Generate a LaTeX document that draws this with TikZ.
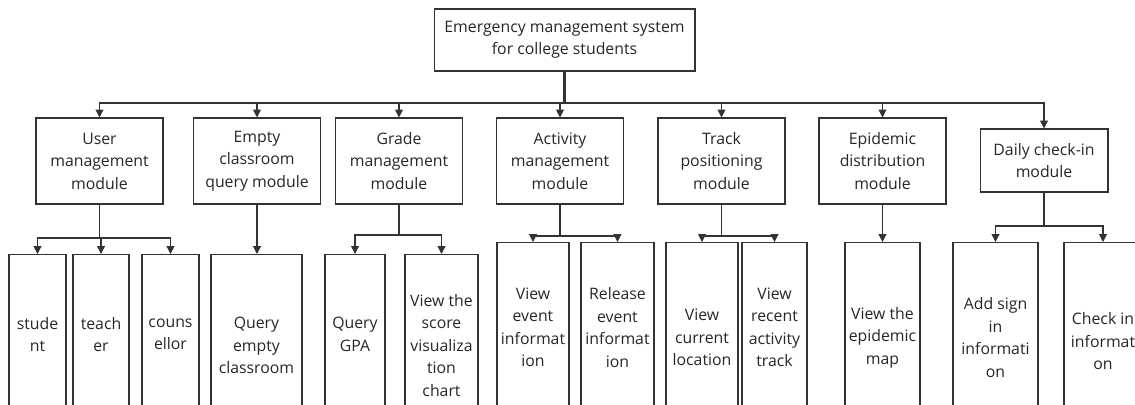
\documentclass[tikz,border=0pt]{standalone}
\usepackage{fontspec}
\setmainfont{Open Sans}
\usetikzlibrary{arrows.meta}

\begin{document}
\begin{tikzpicture}[x=0.02cm,y=-0.02cm,
  line/.style={draw=black!80,line width=0.6pt},
  arr/.style={line,-{Triangle[length=4.5pt,width=4.5pt]}},
  box/.style={draw=black!80,line width=0.6pt,align=center,inner sep=0pt,
    text=black!85,font=\fontsize{9}{12.8}\selectfont},
  mod/.style={box,minimum width=2.54cm,minimum height=1.72cm},
  leaf/.style={box,anchor=north}]
\useasboundingbox (0,0) rectangle (1135,405);
\clip (0,0) rectangle (1135,405);

\node[box,minimum width=5.22cm,minimum height=1.24cm] (sys) at (564.5,40)
  {Emergency management system\\for college students};

\node[mod] (user) at (99.5,161) {User\\management\\module};
\node[mod] (empty) at (257,161) {Empty\\classroom\\query module};
\node[mod] (grade) at (399,161) {Grade\\management\\module};
\node[mod] (act) at (560,161) {Activity\\management\\module};
\node[mod] (track) at (721.5,161) {Track\\positioning\\module};
\node[mod] (epid) at (882.5,161) {Epidemic\\distribution\\module};
\node[mod,minimum width=2.56cm,minimum height=1.26cm] (daily) at (1044,160.5)
  {Daily check-in\\module};

\node[leaf,minimum width=1.14cm,minimum height=3.2cm] (student) at (37.5,254) {stude\\nt};
\node[leaf,minimum width=1.12cm,minimum height=3.2cm] (teacher) at (101,254) {teach\\er};
\node[leaf,minimum width=1.14cm,minimum height=3.2cm] (couns) at (170.5,254) {couns\\ellor};
\node[leaf,minimum width=1.82cm,minimum height=3.64cm] (qempty) at (256.5,254) {Query\\empty\\classroom};
\node[leaf,minimum width=1.2cm,minimum height=3.2cm] (gpa) at (355,254) {Query\\GPA};
\node[leaf,minimum width=1.46cm,minimum height=3.64cm] (score) at (441.5,254)
  {View the\\score\\visualiza\\tion\\chart};
\node[leaf,minimum width=1.44cm,minimum height=3.4cm] (vevent) at (533,242) {View\\event\\informat\\ion};
\node[leaf,minimum width=1.46cm,minimum height=3.4cm] (revent) at (617.5,242) {Release\\event\\informat\\ion};
\node[leaf,minimum width=1.44cm,minimum height=3.8cm] (curloc) at (702,242) {View\\current\\location};
\node[leaf,minimum width=1.3cm,minimum height=3.4cm] (recent) at (774.5,242) {View\\recent\\activity\\track};
\node[leaf,minimum width=1.5cm,minimum height=3.8cm] (map) at (882.5,242) {View the\\epidemic\\map};
\node[leaf,minimum width=1.7cm,minimum height=3.8cm] (addsign) at (995.5,242) {Add sign\\in\\informati\\on};
\node[leaf,minimum width=1.56cm,minimum height=3.96cm] (checkin) at (1103,242) {Check in\\informat\\on};

\coordinate (bus) at (564.5,103);
\draw[line,line width=1.2pt] (sys.south) -- (bus);
\foreach \m in {user,empty,grade,act,track,epid,daily}
  \draw[arr] (bus) -| (\m);

\coordinate (ubus) at (99.5,238);
\draw[line] (user.south) -- (ubus);
\foreach \m in {student,teacher,couns}
  \draw[arr] (ubus) -| (\m);

\draw[arr] (empty.south) -- (empty.south |- qempty.north);

\coordinate (gbus) at (399,235);
\draw[line] (grade.south) -- (gbus);
\foreach \m in {gpa,score}
  \draw[arr] (gbus) -| (\m);

\coordinate (abus) at (560,236);
\draw[line] (act.south) -- (abus);
\foreach \m in {vevent,revent}
  \draw[arr] (abus) -| (\m);

\coordinate (tbus) at (721.5,236);
\draw[line] (track.south) -- (tbus);
\foreach \m in {curloc,recent}
  \draw[arr] (tbus) -| (\m);

\draw[arr] (epid.south) -- (epid.south |- map.north);

\coordinate (dbus) at (1044,226);
\draw[line] (daily.south) -- (dbus);
\foreach \m in {addsign,checkin}
  \draw[arr] (dbus) -| (\m);
\end{tikzpicture}
\end{document}
